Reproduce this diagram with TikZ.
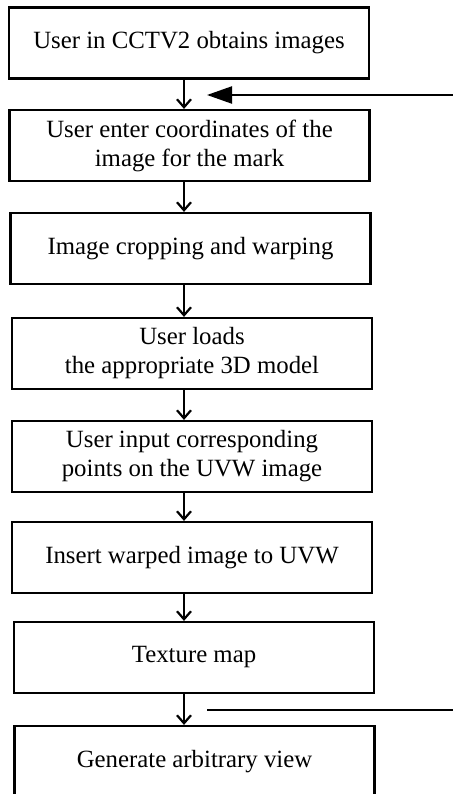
\documentclass[tikz,border=0pt]{standalone}
\usepackage{fontspec}
\setmainfont{Liberation Serif}
\usetikzlibrary{arrows.meta}

\tikzset{
	stepbox/.style={draw, line width=2.2pt, minimum width=360pt, minimum height=71pt,
		align=center, inner sep=0pt, font=\fontsize{24.8}{29}\selectfont},
	flow/.style={line width=2.2pt, -{Straight Barb[length=8pt,width=14pt,line width=2.2pt]}},
	back/.style={line width=2.2pt, -{Triangle[length=25pt,width=17pt]}}
}

\begin{document}
\begin{tikzpicture}[x=1pt, y=1pt]

	\useasboundingbox (0,0) rectangle (452,-794);

	\node [stepbox] (A) at (189,-43) {User in CCTV2 obtains images};
	\node [stepbox] (B) at (189.5,-145.5) {User enter coordinates of the\\image for the mark};
	\node [stepbox] (C) at (190.5,-248.5) {Image cropping and warping};
	\node [stepbox] (D) at (192,-353.5) {User loads\\the appropriate 3D model};
	\node [stepbox] (E) at (192,-456.5) {User input corresponding\\points on the UVW image};
	\node [stepbox] (F) at (192,-557.5) {Insert warped image to UVW};
	\node [stepbox] (G) at (194,-657.5) {Texture map};
	\node [stepbox] (H) at (194.5,-761.5) {Generate arbitrary view};

	\coordinate (X) at (184,0);
	\coordinate (P) at (454,-95);
	\coordinate (Q) at (207,-95);
	\coordinate (R) at (454,-710);
	\coordinate (S) at (207,-710);

	\foreach \from/\to in {A/B, B/C, C/D, D/E, E/F, F/G, G/H}
		\draw [flow] (\from.south -| X) -- (\to.north -| X);

	\draw [back] (P) -- (Q);
	\draw [line width=2.2pt] (R) -- (S);

\end{tikzpicture}
\end{document}
